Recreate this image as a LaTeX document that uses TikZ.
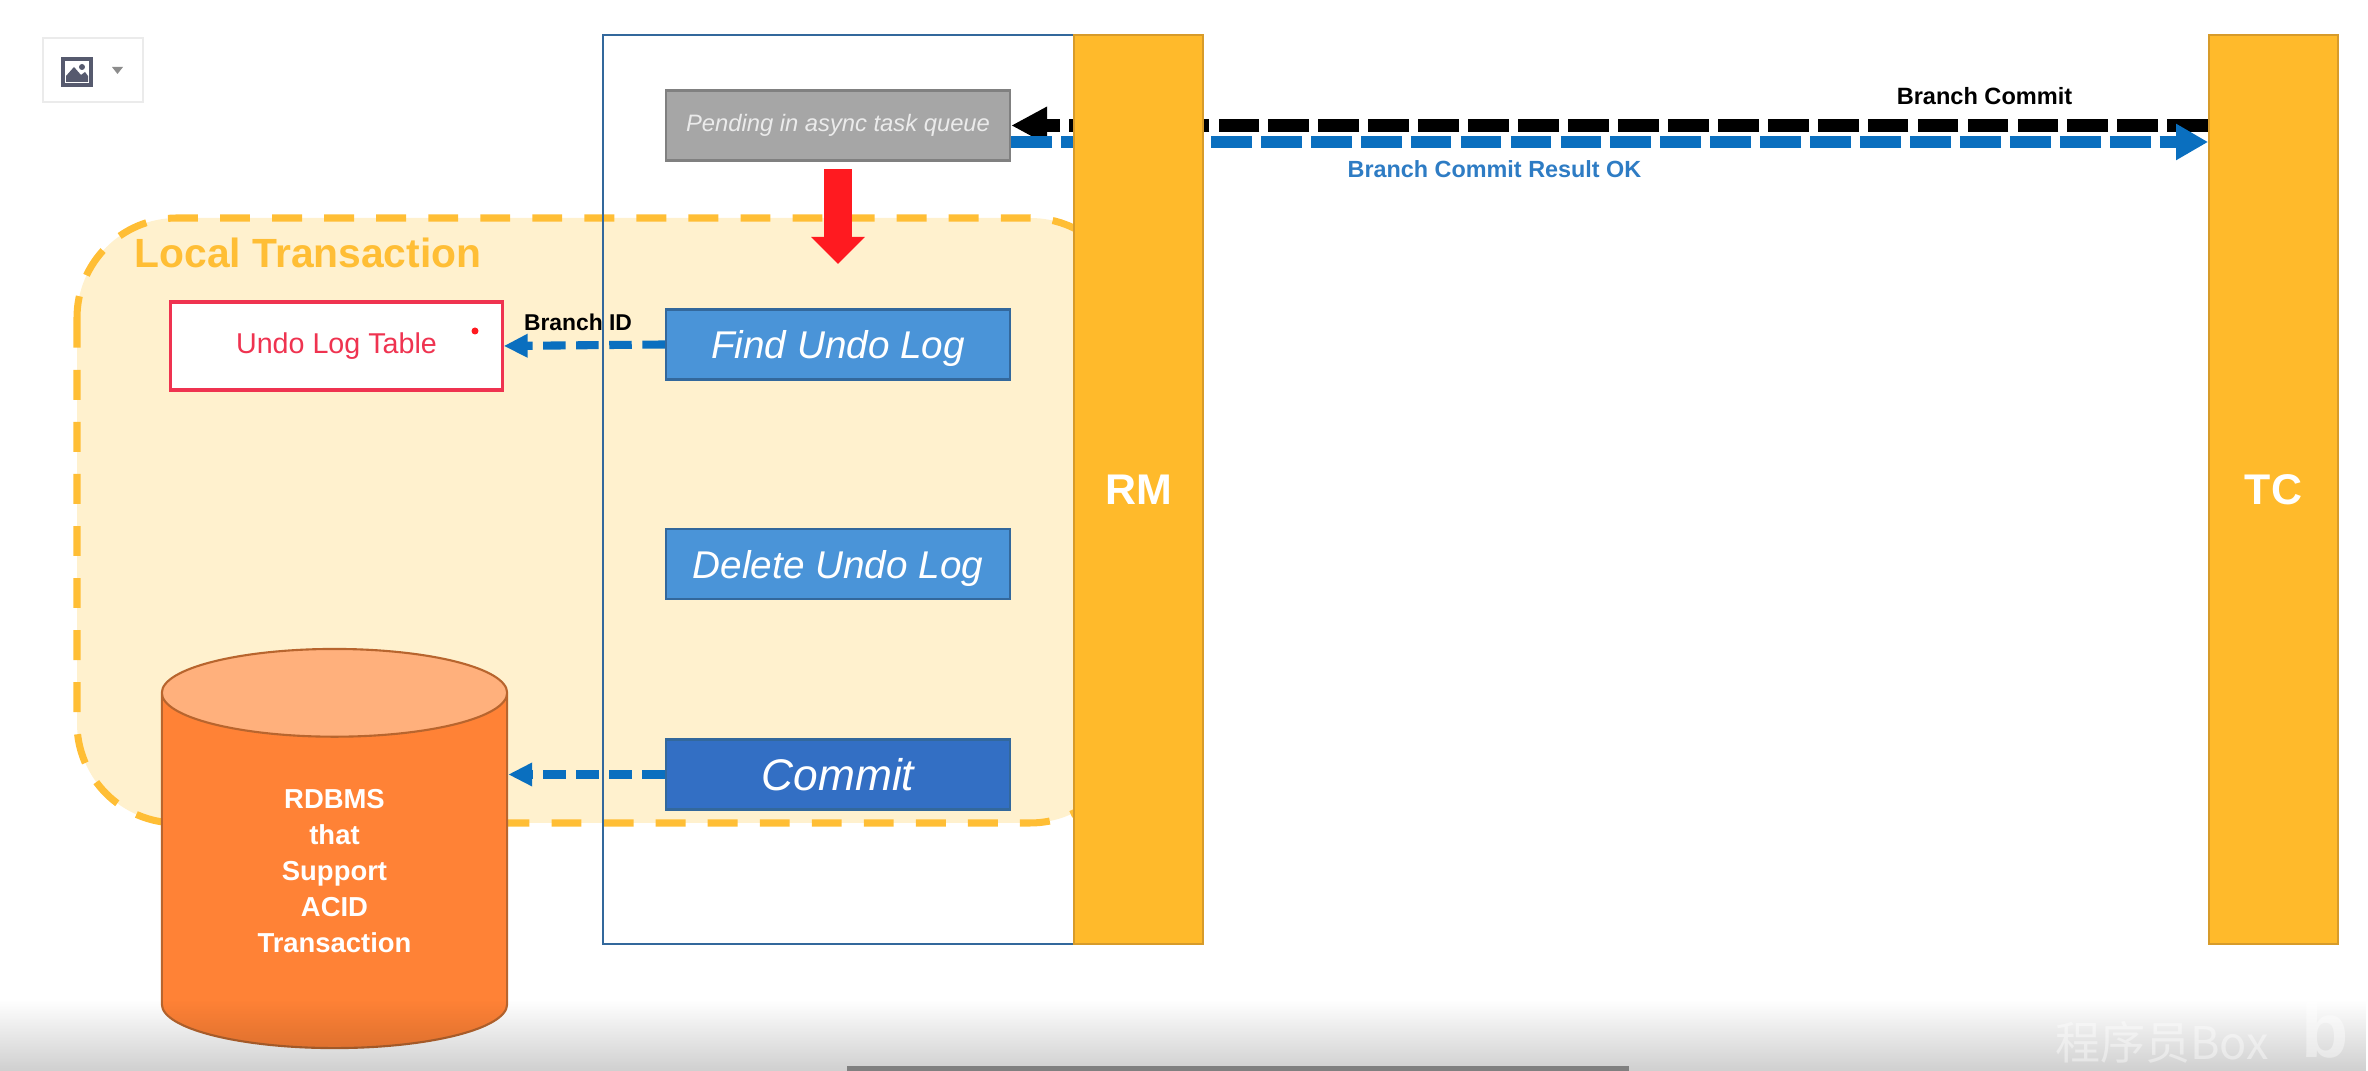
\documentclass[tikz,border=0pt]{standalone}
\usepackage{fontspec}
\setmainfont{Liberation Sans}
\newfontfamily\cjkfont{Noto Sans CJK SC}
\usetikzlibrary{positioning,calc,arrows.meta,shapes.geometric,fadings}

\definecolor{barorange}{HTML}{FFBA2B}
\definecolor{barborder}{HTML}{D79B2A}
\definecolor{localfill}{HTML}{FFF1CE}
\definecolor{localdash}{HTML}{FFBE35}
\definecolor{arrowblue}{HTML}{0A6FBF}
\definecolor{labelblue}{HTML}{2E7CC4}
\definecolor{stepblue}{HTML}{4A94D8}
\definecolor{stepborder}{HTML}{33689C}
\definecolor{commitblue}{HTML}{336FC4}
\definecolor{tablered}{HTML}{EF3350}
\definecolor{arrowred}{HTML}{FF1A20}
\definecolor{dbbody}{HTML}{FF8236}
\definecolor{dbtop}{HTML}{FFB07C}
\definecolor{dbborder}{HTML}{B8652E}
\definecolor{iconslate}{HTML}{565A6E}

\tikzset{
    bar/.style={draw=barborder, fill=barorange, line width=0.5pt, text=white, minimum width=36.7pt, minimum height=258.6pt, inner sep=0pt, font=\bfseries\fontsize{12.2}{14}\selectfont},
    stepbox/.style={draw=stepborder, fill=stepblue, line width=0.6pt, text=white, minimum width=97.9pt, minimum height=19.9pt, inner sep=0pt, text depth=0pt},
    flow/.style={line width=3.5pt, dash pattern=on 11.6pt off 2.6pt},
    shortflow/.style={line width=2.3pt, arrowblue, dash pattern=on 6.4pt off 3pt, -{Triangle[length=6.8pt, width=6.3pt]}},
    tag/.style={inner sep=0pt, font=\bfseries\fontsize{6.7}{8}\selectfont},
}

\begin{document}
\begin{tikzpicture}[x=0.01cm, y=-0.01cm]
    \useasboundingbox (0,0) rectangle (2368,1071);

    % Toolbar button
    \node (toolbar) [draw=black!8, fill=white, line width=0.8pt, minimum width=28.4pt, minimum height=18.2pt, inner sep=0pt] at (93,70) {};
    \draw [fill=white, draw=iconslate, line width=1pt] (63,59) rectangle (91,85);
    \fill [iconslate] (66,82) -- (66,76) -- (74,67) -- (81,75) -- (85,72) -- (88,76) -- (88,82) -- cycle;
    \fill [iconslate] (82,67) circle (3);
    \fill [black!45] (112,67) -- (123,67) -- (117.5,74) -- cycle;

    % Local transaction area
    \draw [fill=localfill, draw=localdash, line width=2pt, dash pattern=on 8.5pt off 6.3pt, rounded corners=28.4pt] (77,218) rectangle (1130,823);
    \node (localtitle) [text=localdash, inner sep=0pt, font=\bfseries\fontsize{11.6}{14}\selectfont] at (308,253) {Local Transaction};

    % Branch lane
    \node (lane) [draw=stepborder, line width=0.7pt, minimum width=134pt, minimum height=258.6pt, inner sep=0pt] at (838.5,489.5) {};

    % Steps
    \node (pending) [stepbox, draw=black!50, fill=black!35, text=black!8, text depth=, font=\itshape\fontsize{6.76}{8}\selectfont] at (838,125.5) {Pending in async task queue};
    \node (findlog) [stepbox, font=\itshape\fontsize{11}{13}\selectfont] at (838,344.5) {Find Undo Log};
    \node (deletelog) [stepbox, font=\itshape\fontsize{11}{13}\selectfont] at (838,564) {Delete Undo Log};
    \node (commit) [stepbox, fill=commitblue, font=\itshape\fontsize{12.6}{15}\selectfont] at (838,774.5) {Commit};

    % Undo log table
    \node (undotable) [draw=tablered, fill=white, line width=0.9pt, text=tablered, minimum width=94.2pt, minimum height=25pt, inner sep=0pt, font=\fontsize{8.15}{10}\selectfont] at (336.5,346) {Undo Log Table};
    \fill [arrowred] (475,331) circle (3.5);

    % Database
    \node (rdbms) [cylinder, shape border rotate=90, aspect=0.57, draw=dbborder, line width=0.6pt, cylinder uses custom fill, cylinder body fill=dbbody, cylinder end fill=dbtop, text=white, minimum width=98.2pt, minimum height=113.5pt, inner sep=0pt, align=center, font=\bfseries\fontsize{7.8}{10.2}\selectfont] at (334.5,871) {RDBMS\\that\\Support\\ACID\\Transaction};

    % Flow between RM and TC
    \node (tc) [bar] at (2273.5,489.5) {TC};
    \coordinate (resultline) at (1500,142);
    \draw [flow, black, -{Triangle[length=10.2pt, width=10pt]}] (tc.west |- pending.east) -- (pending.east);
    \draw [flow, arrowblue, -{Triangle[length=9.1pt, width=9.7pt]}] (pending.east |- resultline) -- (tc.west |- resultline);
    \node (rm) [bar] at (1138.5,489.5) {RM};

    \node (commitlabel) [tag] at (1984.5,96) {Branch Commit};
    \node (resultlabel) [tag, text=labelblue, font=\bfseries\fontsize{6.65}{8}\selectfont] at (1494.5,169) {Branch Commit Result OK};

    % Arrows inside the lane
    \coordinate (redtip) at (838,264);
    \draw [line width=7.7pt, arrowred, -{Triangle[length=7.7pt, width=14.8pt]}] ([yshift=-2.2pt]pending.south) -- (redtip);
    \draw [shortflow] (findlog.west) -- (undotable.east);
    \draw [shortflow] (commit.west) -- (commit.west -| rdbms.east);
    \node (branchid) [tag, font=\bfseries\fontsize{6.5}{8}\selectfont] at (578,322) {Branch ID};

    % Player chrome
    \fill [black, opacity=0.19, path fading=north] (0,1000) rectangle (2368,1071);
    \fill [black!50] (847,1066) rectangle (1629,1071);
    \node (watermark) [text=white, opacity=0.4, inner sep=0pt, font=\cjkfont\fontsize{12.8}{15}\selectfont] at (2162,1042) {程序员Box};
    \node (sitemark) [text=white, opacity=0.4, inner sep=0pt, font=\bfseries\fontsize{22}{24}\selectfont] at (2325,1030) {b};
\end{tikzpicture}
\end{document}
